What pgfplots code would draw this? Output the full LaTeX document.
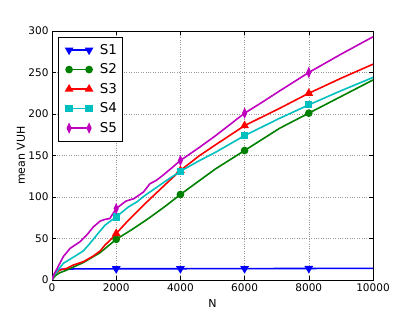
\documentclass[border=0pt]{standalone}
\usepackage{fontspec}
\setmainfont{DejaVu Sans}
\usepackage{pgfplots}
\pgfplotsset{compat=1.18}
\definecolor{mblue}{rgb}{0,0,1}
\definecolor{mgreen}{rgb}{0,0.5,0}
\definecolor{mred}{rgb}{1,0,0}
\definecolor{mcyan}{rgb}{0,0.75,0.75}
\definecolor{mmag}{rgb}{0.75,0,0.75}
\begin{document}
\begin{tikzpicture}
\begin{axis}[
  scale only axis,
  width=321pt, height=249pt,
  xmin=0, xmax=10000, ymin=0, ymax=300,
  xtick={0,2000,4000,6000,8000,10000},
  ytick={0,50,100,150,200,250,300},
  scaled ticks=false,
  /pgf/number format/1000 sep={},
  /pgf/number format/assume math mode=true,
  tick label style={font=\fontsize{10.5}{12}\selectfont},
  tick align=inside,
  major tick length=4pt,
  tick style={black, line width=0.6pt},
  axis line style={black, line width=0.8pt},
  grid=major,
  grid style={dotted, gray!80, line width=0.6pt},
  xlabel={N}, ylabel={mean VUH},
  every axis x label/.style={at={(axis description cs:0.5,0)}, yshift=-23pt, anchor=center, font=\fontsize{11}{13}\selectfont},
  every axis y label/.style={at={(axis description cs:0,0.5)}, xshift=-31pt, rotate=90, anchor=center, font=\fontsize{11}{13}\selectfont},
  legend style={at={(0,1)}, anchor=north west, xshift=6pt, yshift=-6pt,
    draw=black, line width=0.6pt, font=\fontsize{13.5}{16}\selectfont,
    row sep=4pt, inner xsep=3pt, inner ysep=5pt},
  legend cell align=left,
  legend image code/.code={\draw[#1] plot coordinates {(0pt,0pt) (20pt,0pt)}; \path (-7pt,0pt) (28pt,0pt);},
  every axis plot/.append style={line width=1.6pt},
]
\addlegendimage{mblue, line width=1.6pt, mark=triangle*, mark size=3.5pt, mark options={rotate=180, solid}}
\addlegendentry{S1}
\addlegendimage{mgreen, line width=1.6pt, mark=*, mark size=3pt, mark options={solid}}
\addlegendentry{S2}
\addlegendimage{mred, line width=1.6pt, mark=triangle*, mark size=3.5pt, mark options={solid}}
\addlegendentry{S3}
\addlegendimage{mcyan, line width=1.6pt, mark=square*, mark size=2.8pt, mark options={solid}}
\addlegendentry{S4}
\addlegendimage{mmag, line width=1.6pt, mark=diamond*, mark size=3.8pt, mark options={xscale=0.6, solid}}
\addlegendentry{S5}

% S1
\addplot[mblue, no marks, forget plot] coordinates {
(0,0) (50,5) (100,9) (200,12) (300,13) (600,13.3) (2000,13.5) (4000,13.6) (6000,13.7) (8000,13.9) (10000,14)};
\addplot[mblue, only marks, mark=triangle*, mark size=3.5pt, mark options={rotate=180}, forget plot] coordinates {
(2000,13.5) (4000,13.6) (6000,13.7) (8000,13.9)};
% S2
\addplot[mgreen, no marks, forget plot] coordinates {
(0,0) (100,5) (200,8) (460,12) (975,21) (1500,33) (2000,49) (2500,61) (3000,74) (3500,88) (4000,103) (4600,120) (5100,134) (6000,156) (7100,183) (8000,201) (9000,221) (10000,241)};
\addplot[mgreen, only marks, mark=*, mark size=3pt, forget plot] coordinates {
(2000,49) (4000,103) (6000,156) (8000,201)};
% S3
\addplot[mred, no marks, forget plot] coordinates {
(0,0) (95,8) (250,12) (460,14) (665,18) (975,22) (1290,29) (1500,35) (1650,42) (1860,50) (2000,56) (2380,72) (2900,92) (3500,114) (4000,132) (4600,150) (5100,163) (6000,186) (7100,207) (8000,225) (9000,243) (10000,260)};
\addplot[mred, only marks, mark=triangle*, mark size=3.5pt, forget plot] coordinates {
(2000,56) (4000,132) (6000,186) (8000,225)};
% S4
\addplot[mcyan, no marks, forget plot] coordinates {
(0,0) (50,5) (150,10) (350,20) (560,25) (770,30) (975,35) (1180,44) (1390,54) (1650,66) (2000,76) (2380,88) (2640,94) (2900,102) (3200,110) (3570,120) (4000,131) (4600,144) (5100,154) (6000,174) (7100,195) (8000,211) (9000,228) (10000,244)};
\addplot[mcyan, only marks, mark=square*, mark size=2.8pt, forget plot] coordinates {
(2000,76) (4000,131) (6000,174) (8000,211)};
% S5
\addplot[mmag, no marks, forget plot] coordinates {
(0,0) (50,6) (150,13) (350,28) (560,38) (870,46) (1080,54) (1290,64) (1500,71) (1650,73) (1800,74) (2000,86) (2300,95) (2550,98) (2850,106) (3050,116) (3250,120) (3450,126) (3700,134) (4000,144) (4600,160) (5100,174) (6000,201) (6500,213) (7100,228) (8000,250) (9000,272) (10000,293)};
\addplot[mmag, only marks, mark=diamond*, mark size=3.8pt, mark options={xscale=0.6}, forget plot] coordinates {
(2000,86) (4000,144) (6000,201) (8000,250)};
\end{axis}
\path (current axis.south west) ++(-52pt,-32pt) rectangle ++(415pt,312pt);
\end{tikzpicture}
\end{document}
